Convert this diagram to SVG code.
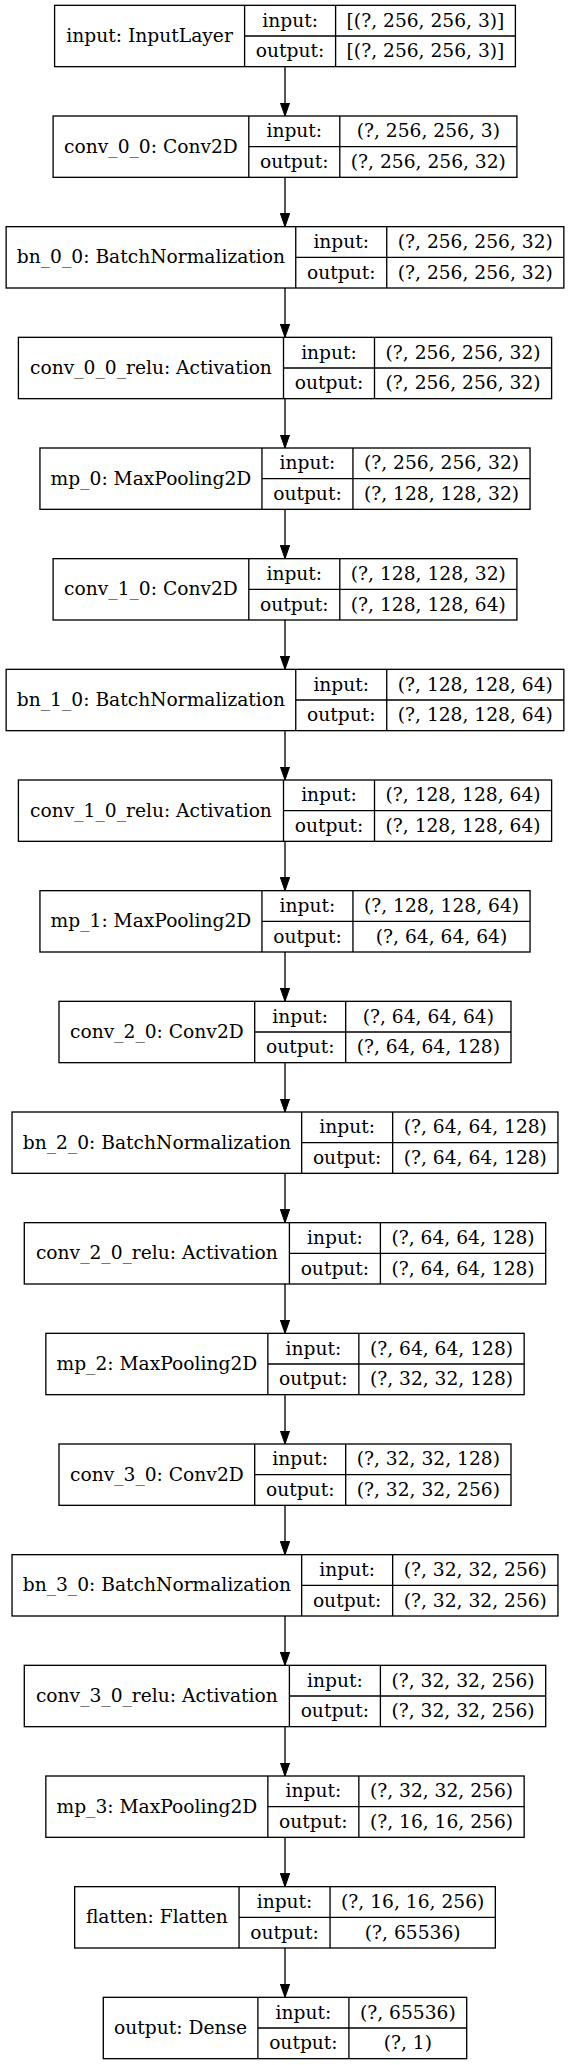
<svg xmlns="http://www.w3.org/2000/svg" width="571" height="2065" viewBox="0 0 571 2065">
<style>
.b{fill:#fff;stroke:#000;stroke-width:1.33}
.l{stroke:#000;stroke-width:1.33;fill:none}
text{font-family:"DejaVu Serif",serif;font-size:18.67px;text-anchor:middle;fill:#000}
.e{stroke:#000;stroke-width:1.33;fill:none;marker-end:url(#ah)}
</style>
<defs>
<marker id="ah" markerUnits="userSpaceOnUse" markerWidth="14" markerHeight="10" refX="13.33" refY="4.67" orient="auto" viewBox="0 0 14 9.34">
<path d="M0,0 L13.33,4.67 L0,9.34 z" fill="#000" stroke="#000" stroke-width="1"/>
</marker>
</defs>
<rect x="0" y="0" width="571" height="2065" fill="#fff"/>
<g id="edges">
<line class="e" x1="285" y1="66.66" x2="285" y2="116"/>
<line class="e" x1="285" y1="177.33" x2="285" y2="226.67"/>
<line class="e" x1="285" y1="288" x2="285" y2="337.33"/>
<line class="e" x1="285" y1="398.66" x2="285" y2="448"/>
<line class="e" x1="285" y1="509.33" x2="285" y2="558.67"/>
<line class="e" x1="285" y1="620" x2="285" y2="669.33"/>
<line class="e" x1="285" y1="730.66" x2="285" y2="780"/>
<line class="e" x1="285" y1="841.33" x2="285" y2="890.67"/>
<line class="e" x1="285" y1="952" x2="285" y2="1001.33"/>
<line class="e" x1="285" y1="1062.66" x2="285" y2="1112"/>
<line class="e" x1="285" y1="1173.33" x2="285" y2="1222.67"/>
<line class="e" x1="285" y1="1284" x2="285" y2="1333.33"/>
<line class="e" x1="285" y1="1394.66" x2="285" y2="1444"/>
<line class="e" x1="285" y1="1505.33" x2="285" y2="1554.67"/>
<line class="e" x1="285" y1="1616" x2="285" y2="1665.33"/>
<line class="e" x1="285" y1="1726.66" x2="285" y2="1776"/>
<line class="e" x1="285" y1="1837.33" x2="285" y2="1886.67"/>
<line class="e" x1="285" y1="1948" x2="285" y2="1997.33"/>
</g>
<g id="n_input" transform="translate(0,5.33)">
<rect class="b" x="54.6" y="0" width="460.8" height="61.33"/>
<path class="l" d="M244.6,0V61.33M335.6,0V61.33M244.6,30.67H515.4"/>
<text x="149.6" y="36.7">input: InputLayer</text>
<text x="290.1" y="21.3">input:</text>
<text x="290.1" y="52">output:</text>
<text x="425.5" y="21.3">[(?, 256, 256, 3)]</text>
<text x="425.5" y="52">[(?, 256, 256, 3)]</text>
</g>
<g id="n_conv_0_0" transform="translate(0,116)">
<rect class="b" x="53.1" y="0" width="463.8" height="61.33"/>
<path class="l" d="M248.8,0V61.33M339.8,0V61.33M248.8,30.67H516.9"/>
<text x="150.95" y="36.7">conv_0_0: Conv2D</text>
<text x="294.3" y="21.3">input:</text>
<text x="294.3" y="52">output:</text>
<text x="428.35" y="21.3">(?, 256, 256, 3)</text>
<text x="428.35" y="52">(?, 256, 256, 32)</text>
</g>
<g id="n_bn_0_0" transform="translate(0,226.67)">
<rect class="b" x="6.15" y="0" width="557.7" height="61.33"/>
<path class="l" d="M295.75,0V61.33M386.75,0V61.33M295.75,30.67H563.85"/>
<text x="150.95" y="36.7">bn_0_0: BatchNormalization</text>
<text x="341.25" y="21.3">input:</text>
<text x="341.25" y="52">output:</text>
<text x="475.3" y="21.3">(?, 256, 256, 32)</text>
<text x="475.3" y="52">(?, 256, 256, 32)</text>
</g>
<g id="n_conv_0_0_relu" transform="translate(0,337.33)">
<rect class="b" x="18.4" y="0" width="533.2" height="61.33"/>
<path class="l" d="M283.5,0V61.33M374.5,0V61.33M283.5,30.67H551.6"/>
<text x="150.95" y="36.7">conv_0_0_relu: Activation</text>
<text x="329" y="21.3">input:</text>
<text x="329" y="52">output:</text>
<text x="463.05" y="21.3">(?, 256, 256, 32)</text>
<text x="463.05" y="52">(?, 256, 256, 32)</text>
</g>
<g id="n_mp_0" transform="translate(0,448)">
<rect class="b" x="39.95" y="0" width="490.1" height="61.33"/>
<path class="l" d="M261.95,0V61.33M352.95,0V61.33M261.95,30.67H530.05"/>
<text x="150.95" y="36.7">mp_0: MaxPooling2D</text>
<text x="307.45" y="21.3">input:</text>
<text x="307.45" y="52">output:</text>
<text x="441.5" y="21.3">(?, 256, 256, 32)</text>
<text x="441.5" y="52">(?, 128, 128, 32)</text>
</g>
<g id="n_conv_1_0" transform="translate(0,558.67)">
<rect class="b" x="53.1" y="0" width="463.8" height="61.33"/>
<path class="l" d="M248.8,0V61.33M339.8,0V61.33M248.8,30.67H516.9"/>
<text x="150.95" y="36.7">conv_1_0: Conv2D</text>
<text x="294.3" y="21.3">input:</text>
<text x="294.3" y="52">output:</text>
<text x="428.35" y="21.3">(?, 128, 128, 32)</text>
<text x="428.35" y="52">(?, 128, 128, 64)</text>
</g>
<g id="n_bn_1_0" transform="translate(0,669.33)">
<rect class="b" x="6.15" y="0" width="557.7" height="61.33"/>
<path class="l" d="M295.75,0V61.33M386.75,0V61.33M295.75,30.67H563.85"/>
<text x="150.95" y="36.7">bn_1_0: BatchNormalization</text>
<text x="341.25" y="21.3">input:</text>
<text x="341.25" y="52">output:</text>
<text x="475.3" y="21.3">(?, 128, 128, 64)</text>
<text x="475.3" y="52">(?, 128, 128, 64)</text>
</g>
<g id="n_conv_1_0_relu" transform="translate(0,780)">
<rect class="b" x="18.4" y="0" width="533.2" height="61.33"/>
<path class="l" d="M283.5,0V61.33M374.5,0V61.33M283.5,30.67H551.6"/>
<text x="150.95" y="36.7">conv_1_0_relu: Activation</text>
<text x="329" y="21.3">input:</text>
<text x="329" y="52">output:</text>
<text x="463.05" y="21.3">(?, 128, 128, 64)</text>
<text x="463.05" y="52">(?, 128, 128, 64)</text>
</g>
<g id="n_mp_1" transform="translate(0,890.67)">
<rect class="b" x="39.95" y="0" width="490.1" height="61.33"/>
<path class="l" d="M261.95,0V61.33M352.95,0V61.33M261.95,30.67H530.05"/>
<text x="150.95" y="36.7">mp_1: MaxPooling2D</text>
<text x="307.45" y="21.3">input:</text>
<text x="307.45" y="52">output:</text>
<text x="441.5" y="21.3">(?, 128, 128, 64)</text>
<text x="441.5" y="52">(?, 64, 64, 64)</text>
</g>
<g id="n_conv_2_0" transform="translate(0,1001.33)">
<rect class="b" x="59" y="0" width="452" height="61.33"/>
<path class="l" d="M254.7,0V61.33M345.7,0V61.33M254.7,30.67H511"/>
<text x="156.85" y="36.7">conv_2_0: Conv2D</text>
<text x="300.2" y="21.3">input:</text>
<text x="300.2" y="52">output:</text>
<text x="428.35" y="21.3">(?, 64, 64, 64)</text>
<text x="428.35" y="52">(?, 64, 64, 128)</text>
</g>
<g id="n_bn_2_0" transform="translate(0,1112)">
<rect class="b" x="12.05" y="0" width="545.9" height="61.33"/>
<path class="l" d="M301.65,0V61.33M392.65,0V61.33M301.65,30.67H557.95"/>
<text x="156.85" y="36.7">bn_2_0: BatchNormalization</text>
<text x="347.15" y="21.3">input:</text>
<text x="347.15" y="52">output:</text>
<text x="475.3" y="21.3">(?, 64, 64, 128)</text>
<text x="475.3" y="52">(?, 64, 64, 128)</text>
</g>
<g id="n_conv_2_0_relu" transform="translate(0,1222.67)">
<rect class="b" x="24.3" y="0" width="521.4" height="61.33"/>
<path class="l" d="M289.4,0V61.33M380.4,0V61.33M289.4,30.67H545.7"/>
<text x="156.85" y="36.7">conv_2_0_relu: Activation</text>
<text x="334.9" y="21.3">input:</text>
<text x="334.9" y="52">output:</text>
<text x="463.05" y="21.3">(?, 64, 64, 128)</text>
<text x="463.05" y="52">(?, 64, 64, 128)</text>
</g>
<g id="n_mp_2" transform="translate(0,1333.33)">
<rect class="b" x="45.85" y="0" width="478.3" height="61.33"/>
<path class="l" d="M267.85,0V61.33M358.85,0V61.33M267.85,30.67H524.15"/>
<text x="156.85" y="36.7">mp_2: MaxPooling2D</text>
<text x="313.35" y="21.3">input:</text>
<text x="313.35" y="52">output:</text>
<text x="441.5" y="21.3">(?, 64, 64, 128)</text>
<text x="441.5" y="52">(?, 32, 32, 128)</text>
</g>
<g id="n_conv_3_0" transform="translate(0,1444)">
<rect class="b" x="59" y="0" width="452" height="61.33"/>
<path class="l" d="M254.7,0V61.33M345.7,0V61.33M254.7,30.67H511"/>
<text x="156.85" y="36.7">conv_3_0: Conv2D</text>
<text x="300.2" y="21.3">input:</text>
<text x="300.2" y="52">output:</text>
<text x="428.35" y="21.3">(?, 32, 32, 128)</text>
<text x="428.35" y="52">(?, 32, 32, 256)</text>
</g>
<g id="n_bn_3_0" transform="translate(0,1554.67)">
<rect class="b" x="12.05" y="0" width="545.9" height="61.33"/>
<path class="l" d="M301.65,0V61.33M392.65,0V61.33M301.65,30.67H557.95"/>
<text x="156.85" y="36.7">bn_3_0: BatchNormalization</text>
<text x="347.15" y="21.3">input:</text>
<text x="347.15" y="52">output:</text>
<text x="475.3" y="21.3">(?, 32, 32, 256)</text>
<text x="475.3" y="52">(?, 32, 32, 256)</text>
</g>
<g id="n_conv_3_0_relu" transform="translate(0,1665.33)">
<rect class="b" x="24.3" y="0" width="521.4" height="61.33"/>
<path class="l" d="M289.4,0V61.33M380.4,0V61.33M289.4,30.67H545.7"/>
<text x="156.85" y="36.7">conv_3_0_relu: Activation</text>
<text x="334.9" y="21.3">input:</text>
<text x="334.9" y="52">output:</text>
<text x="463.05" y="21.3">(?, 32, 32, 256)</text>
<text x="463.05" y="52">(?, 32, 32, 256)</text>
</g>
<g id="n_mp_3" transform="translate(0,1776)">
<rect class="b" x="45.85" y="0" width="478.3" height="61.33"/>
<path class="l" d="M267.85,0V61.33M358.85,0V61.33M267.85,30.67H524.15"/>
<text x="156.85" y="36.7">mp_3: MaxPooling2D</text>
<text x="313.35" y="21.3">input:</text>
<text x="313.35" y="52">output:</text>
<text x="441.5" y="21.3">(?, 32, 32, 256)</text>
<text x="441.5" y="52">(?, 16, 16, 256)</text>
</g>
<g id="n_flatten" transform="translate(0,1886.67)">
<rect class="b" x="74.65" y="0" width="420.7" height="61.33"/>
<path class="l" d="M239.05,0V61.33M330.05,0V61.33M239.05,30.67H495.35"/>
<text x="156.85" y="36.7">flatten: Flatten</text>
<text x="284.55" y="21.3">input:</text>
<text x="284.55" y="52">output:</text>
<text x="412.7" y="21.3">(?, 16, 16, 256)</text>
<text x="412.7" y="52">(?, 65536)</text>
</g>
<g id="n_output" transform="translate(0,1997.33)">
<rect class="b" x="103.3" y="0" width="363.4" height="61.33"/>
<path class="l" d="M257.9,0V61.33M348.9,0V61.33M257.9,30.67H466.7"/>
<text x="180.6" y="36.7">output: Dense</text>
<text x="303.4" y="21.3">input:</text>
<text x="303.4" y="52">output:</text>
<text x="407.8" y="21.3">(?, 65536)</text>
<text x="407.8" y="52">(?, 1)</text>
</g>
</svg>
